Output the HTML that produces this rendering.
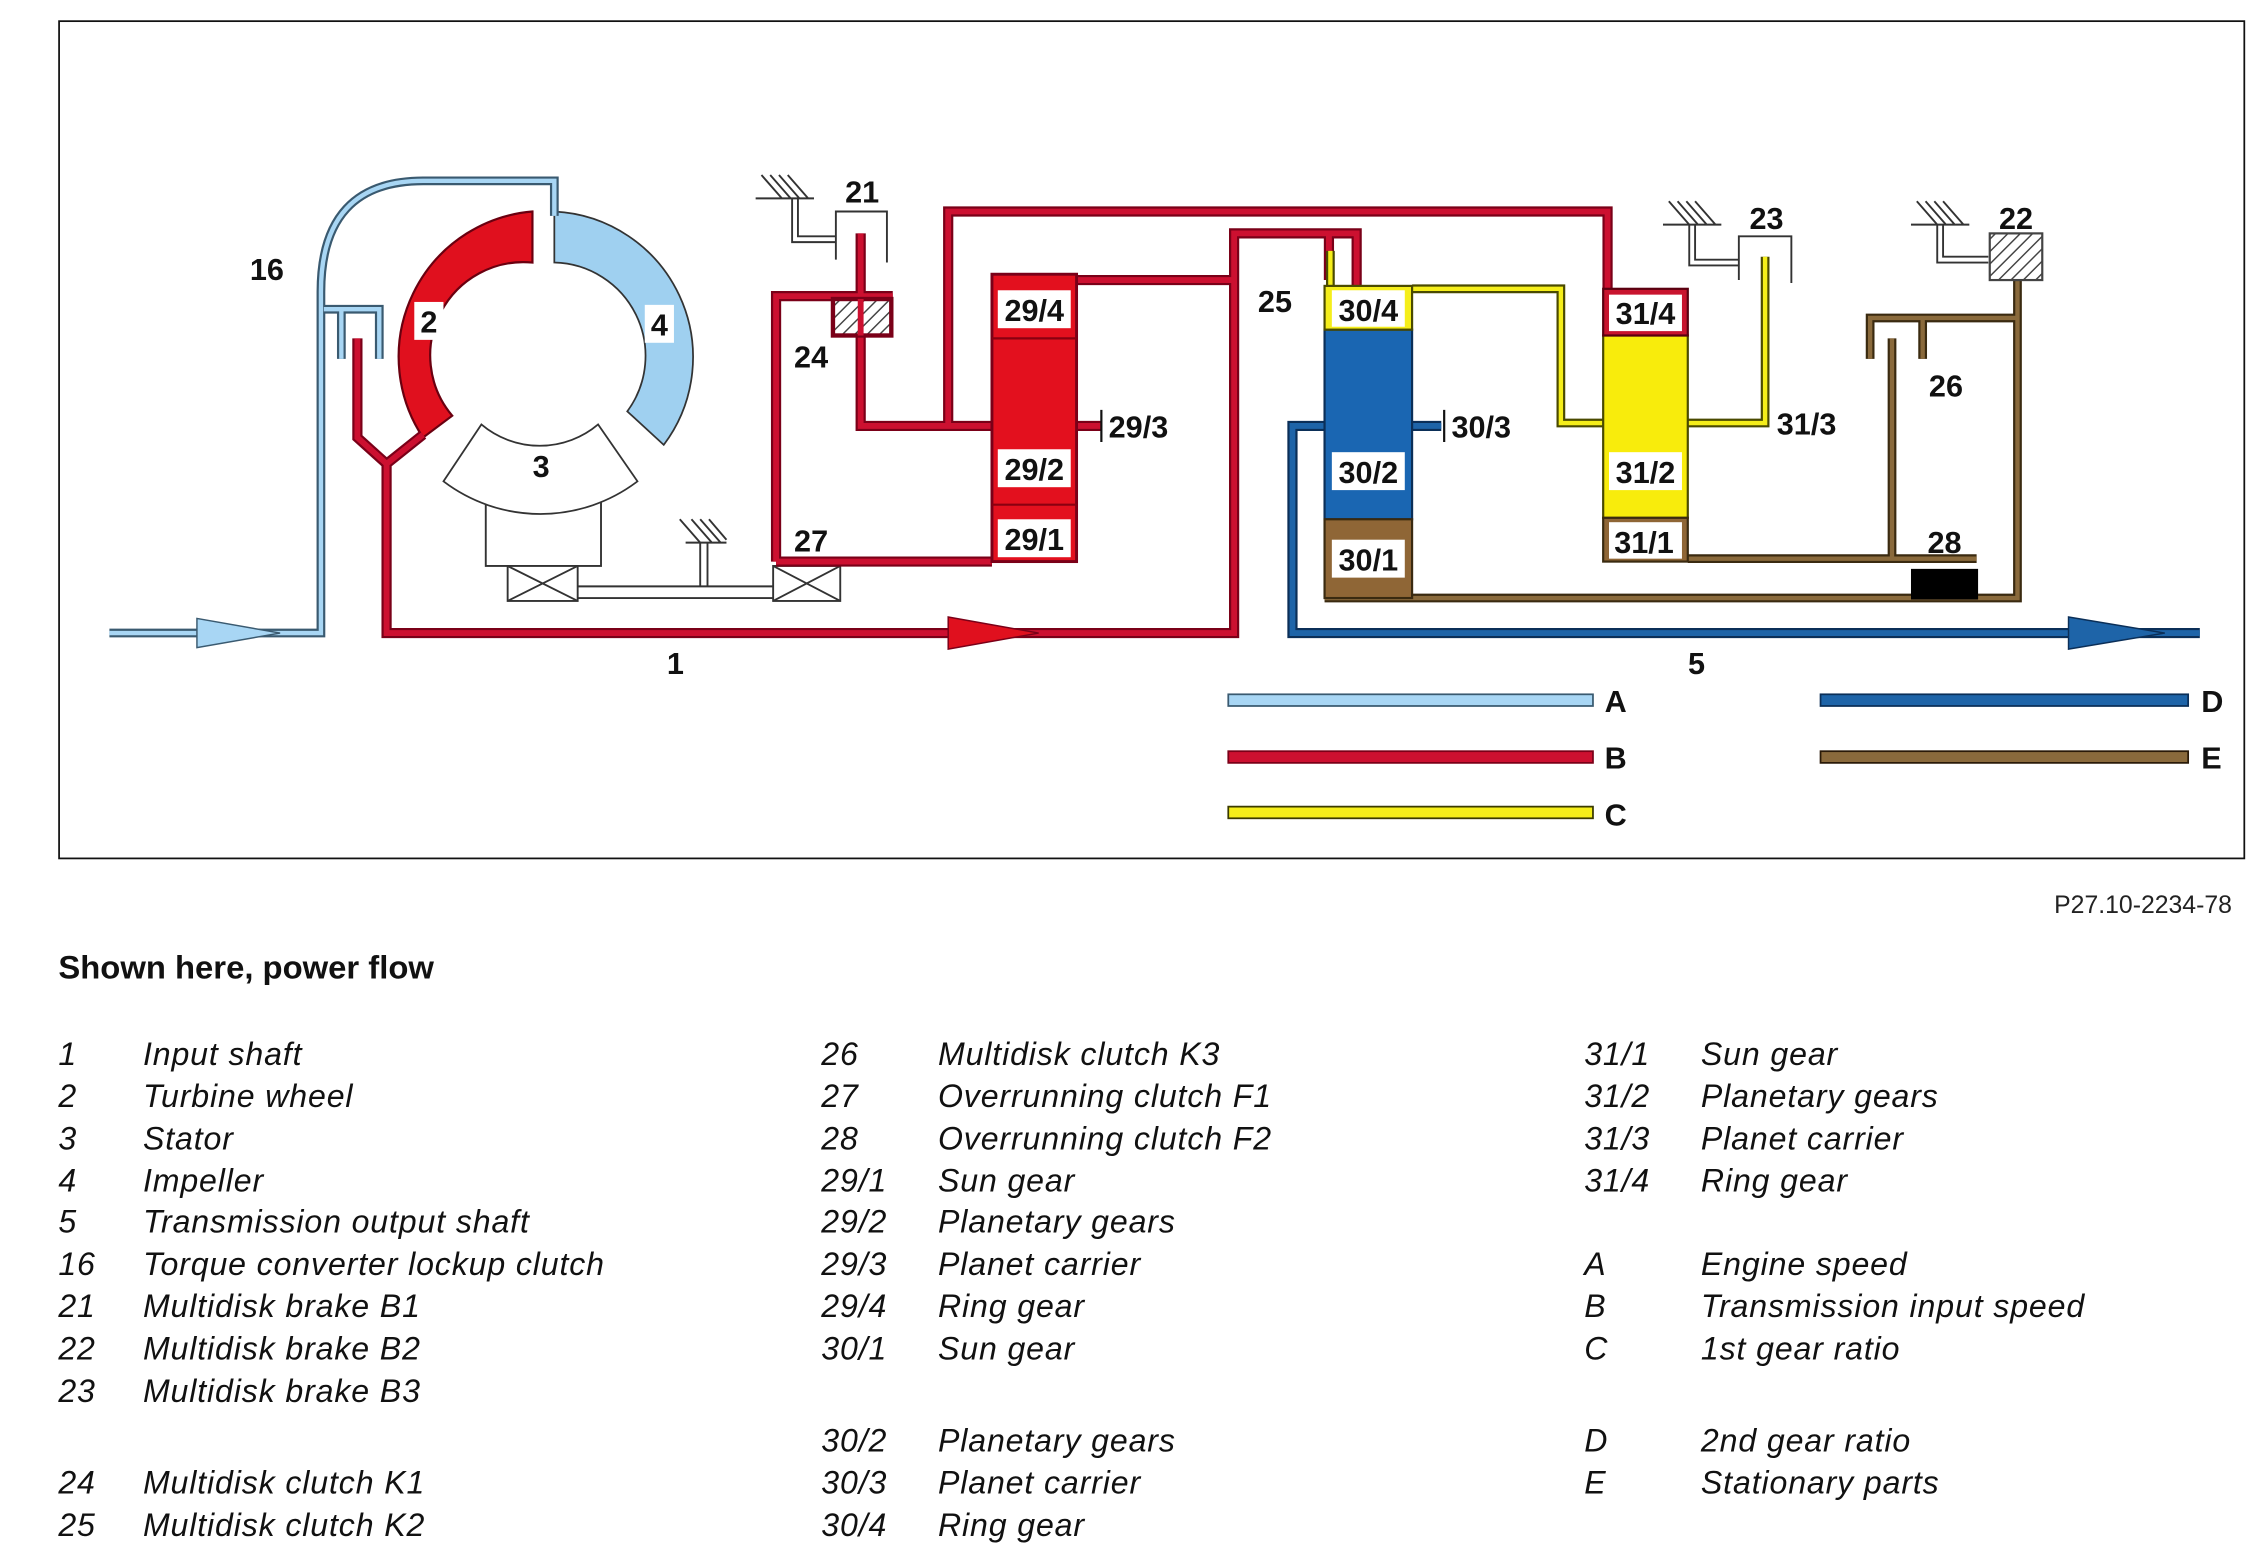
<!DOCTYPE html>
<html><head><meta charset="utf-8"><style>
html,body{margin:0;padding:0;background:#fff;}
svg{display:block}
text{font-family:"Liberation Sans",Arial,sans-serif;}
.lb{font-weight:bold;font-size:21px;fill:#111}
.li{font-style:italic;font-size:22px;fill:#111;letter-spacing:0.6px}
</style></head><body>
<svg width="2264" height="1552" viewBox="0 0 1552 1064" preserveAspectRatio="none" xmlns="http://www.w3.org/2000/svg">
<defs>
<pattern id="h" width="6" height="6" patternUnits="userSpaceOnUse" patternTransform="rotate(45)"><rect width="6" height="6" fill="#fff"/><line x1="0" y1="0" x2="0" y2="6" stroke="#444" stroke-width="2"/></pattern>
</defs>
<rect x="40.5" y="14.5" width="1498" height="574" fill="none" stroke="#111" stroke-width="1.2"/>

<g fill="none" stroke="#333" stroke-width="1.3">
<rect x="333" y="330" width="79" height="58" fill="#fff"/>
<rect x="348" y="388" width="48" height="24" fill="#fff"/><path d="M348 388L396 412M396 388L348 412"/>
<rect x="530" y="388" width="46" height="24" fill="#fff"/><path d="M530 388L576 412M576 388L530 412"/>
<path d="M396 402H530M396 410H530M480 372V402M485 372V402"/>
<path d="M470 372H498M474 356l14 16M480 356l14 16M486 356l12 14M466 356l14 16"/>
<path d="M518 136H558M522 120l14 16M528 120l14 16M534 120l14 16M540 120l14 16"/>
<path d="M543 136V166H573M547 136V162H573"/>
<path d="M573 178V145H608V180"/>
<path d="M1140 154H1180M1144 138l14 16M1150 138l14 16M1156 138l14 16M1162 138l14 16"/>
<path d="M1158 154V182H1192M1162 154V178H1192"/>
<path d="M1192 192V162H1228V194"/>
<path d="M1310 154H1350M1314 138l14 16M1320 138l14 16M1326 138l14 16M1332 138l14 16"/>
<path d="M1328 154V180H1363M1332 154V176H1363"/>
</g>

<path d="M365 145 A100 100 0 0 0 290 300 L310 285 A64 64 0 0 1 365 180 Z" fill="#e0101e" stroke="#6a0010" stroke-width="1.5"/>
<path d="M380 145 A100 100 0 0 1 455 305 L430 282 A64 64 0 0 0 380 180 Z" fill="#9fd0f0" stroke="#333" stroke-width="1.2"/>
<path d="M330 291 A62 62 0 0 0 410 291 L437 330 A110 110 0 0 1 304 330 Z" fill="#fff" stroke="#333" stroke-width="1.2"/>

<g fill="none" stroke-linejoin="miter">
<path d="M75 434H220V200Q220 124 290 124H380V148M222 212H260V246M234 212V246" stroke="#3a5a70" stroke-width="6"/>
<path d="M75 434H220V200Q220 124 290 124H380V148M222 212H260V246M234 212V246" stroke="#a8d6f4" stroke-width="3"/>
<g stroke="#7a0018" stroke-width="7">
<path d="M245 232V300L265 318L290 298M265 318V434H846V160H930V196M911 160V192"/>
<path d="M590 160V292H755M532 385V203H612M532 385H680M738 192H846M650 292V145H1102V198"/>
</g>
<g stroke="#cc1030" stroke-width="4">
<path d="M245 232V300L265 318L290 298M265 318V434H846V160H930V196M911 160V192"/>
<path d="M590 160V292H755M532 385V203H612M532 385H680M738 192H846M650 292V145H1102V198"/>
</g>
<path d="M755 281V303M990 281V303" stroke="#111" stroke-width="1.5"/>
<path d="M912 172V198M968 198H1070V290H1210V176" stroke="#4a4a00" stroke-width="6"/>
<path d="M912 172V198M968 198H1070V290H1210V176" stroke="#f5ee1a" stroke-width="3"/>
<path d="M908 410H1383V176M1157 383H1355M1297 232V383M1282 246V218H1383M1318 218V246" stroke="#3a2a10" stroke-width="6"/>
<path d="M908 410H1383V176M1157 383H1355M1297 232V383M1282 246V218H1383M1318 218V246" stroke="#8a6a3c" stroke-width="3"/>
<path d="M988 292H886V434H1508" stroke="#0b2f58" stroke-width="7"/>
<path d="M988 292H886V434H1508" stroke="#1e64a8" stroke-width="4"/>
</g>
<path d="M135 424L192 434L135 444Z" fill="#a8d6f4" stroke="#3a5a70" stroke-width="1"/>
<path d="M650 423L712 434L650 445Z" fill="#e0101e" stroke="#7a0018" stroke-width="1"/>
<path d="M1418 423L1484 434L1418 445Z" fill="#1e64a8" stroke="#0b2f58" stroke-width="1"/>

<rect x="571" y="205" width="40" height="25" fill="url(#h)" stroke="#7a0018" stroke-width="3"/>
<path d="M590 205V230" stroke="#cc1030" stroke-width="4"/>
<rect x="1364" y="160" width="36" height="32" fill="url(#h)" stroke="#444" stroke-width="1.5"/>
<rect x="1310" y="390" width="46" height="21" fill="#000"/>

<rect x="680" y="188" width="58" height="197" fill="#e3101e" stroke="#7a0018" stroke-width="2"/>
<path d="M680 232H738M680 346H738" stroke="#8a0010" stroke-width="1.5"/>
<rect x="908" y="226" width="60" height="130" fill="#1a66b2" stroke="#0b2f58" stroke-width="1.5"/>
<rect x="908" y="196" width="60" height="30" fill="#f5ee1a" stroke="#4a4a00" stroke-width="1.5"/>
<rect x="908" y="356" width="60" height="54" fill="#8f6636" stroke="#3a2a10" stroke-width="1.5"/>
<rect x="1099" y="230" width="58" height="125" fill="#f8ec0c" stroke="#4a4a00" stroke-width="1.5"/>
<rect x="1099" y="198" width="58" height="32" fill="#c8142e" stroke="#5a0010" stroke-width="1.5"/>
<rect x="1099" y="355" width="58" height="30" fill="#8f6636" stroke="#3a2a10" stroke-width="1.5"/>

<g fill="#fff">
<rect x="684" y="199" width="50" height="26"/><rect x="684" y="308" width="50" height="26"/><rect x="684" y="356" width="50" height="26"/>
<rect x="913" y="199" width="50" height="25"/><rect x="913" y="310" width="50" height="26"/><rect x="913" y="370" width="50" height="26"/>
<rect x="1103" y="202" width="50" height="25"/><rect x="1103" y="310" width="50" height="26"/><rect x="1103" y="358" width="50" height="25"/>
<rect x="284" y="207" width="20" height="26"/><rect x="442" y="209" width="20" height="26"/>
</g>
<g class="lb" text-anchor="middle">
<text x="709" y="220">29/4</text><text x="709" y="329">29/2</text><text x="709" y="377">29/1</text>
<text x="938" y="220">30/4</text><text x="938" y="331">30/2</text><text x="938" y="391">30/1</text>
<text x="1128" y="222">31/4</text><text x="1128" y="331">31/2</text><text x="1127" y="379">31/1</text>
<text x="294" y="228">2</text><text x="452" y="230">4</text><text x="371" y="327">3</text>
<text x="183" y="192">16</text><text x="591" y="139">21</text><text x="556" y="252">24</text><text x="556" y="378">27</text>
<text x="874" y="214">25</text><text x="1334" y="272">26</text><text x="1333" y="379">28</text>
<text x="1211" y="157">23</text><text x="1382" y="157">22</text>
<text x="463" y="462">1</text><text x="1163" y="462">5</text>
</g>
<g class="lb"><text x="760" y="300">29/3</text><text x="995" y="300">30/3</text><text x="1218" y="298">31/3</text></g>

<rect x="842" y="476" width="250" height="8" fill="#a8d6f4" stroke="#3a5a70" stroke-width="1.2"/>
<rect x="842" y="515" width="250" height="8" fill="#cc1030" stroke="#7a0018" stroke-width="1.2"/>
<rect x="842" y="553" width="250" height="8" fill="#f5ee1a" stroke="#3a3a00" stroke-width="1.2"/>
<rect x="1248" y="476" width="252" height="8" fill="#1e64a8" stroke="#0b2f58" stroke-width="1.2"/>
<rect x="1248" y="515" width="252" height="8" fill="#8a6a3c" stroke="#2a1a08" stroke-width="1.2"/>
<g class="lb"><text x="1100" y="488">A</text><text x="1100" y="527">B</text><text x="1100" y="566">C</text><text x="1509" y="488">D</text><text x="1509" y="527">E</text></g>

<text x="1530" y="626" text-anchor="end" font-size="17" fill="#222">P27.10-2234-78</text>
<text x="40" y="671" font-size="22.5" font-weight="bold" fill="#111">Shown here, power flow</text>

<g class="li">
<text x="40" y="730">1</text><text x="98" y="730">Input shaft</text>
<text x="40" y="759">2</text><text x="98" y="759">Turbine wheel</text>
<text x="40" y="788">3</text><text x="98" y="788">Stator</text>
<text x="40" y="817">4</text><text x="98" y="817">Impeller</text>
<text x="40" y="845">5</text><text x="98" y="845">Transmission output shaft</text>
<text x="40" y="874">16</text><text x="98" y="874">Torque converter lockup clutch</text>
<text x="40" y="903">21</text><text x="98" y="903">Multidisk brake B1</text>
<text x="40" y="932">22</text><text x="98" y="932">Multidisk brake B2</text>
<text x="40" y="961">23</text><text x="98" y="961">Multidisk brake B3</text>
<text x="40" y="1024">24</text><text x="98" y="1024">Multidisk clutch K1</text>
<text x="40" y="1053">25</text><text x="98" y="1053">Multidisk clutch K2</text>

<text x="563" y="730">26</text><text x="643" y="730">Multidisk clutch K3</text>
<text x="563" y="759">27</text><text x="643" y="759">Overrunning clutch F1</text>
<text x="563" y="788">28</text><text x="643" y="788">Overrunning clutch F2</text>
<text x="563" y="817">29/1</text><text x="643" y="817">Sun gear</text>
<text x="563" y="845">29/2</text><text x="643" y="845">Planetary gears</text>
<text x="563" y="874">29/3</text><text x="643" y="874">Planet carrier</text>
<text x="563" y="903">29/4</text><text x="643" y="903">Ring gear</text>
<text x="563" y="932">30/1</text><text x="643" y="932">Sun gear</text>
<text x="563" y="995">30/2</text><text x="643" y="995">Planetary gears</text>
<text x="563" y="1024">30/3</text><text x="643" y="1024">Planet carrier</text>
<text x="563" y="1053">30/4</text><text x="643" y="1053">Ring gear</text>

<text x="1086" y="730">31/1</text><text x="1166" y="730">Sun gear</text>
<text x="1086" y="759">31/2</text><text x="1166" y="759">Planetary gears</text>
<text x="1086" y="788">31/3</text><text x="1166" y="788">Planet carrier</text>
<text x="1086" y="817">31/4</text><text x="1166" y="817">Ring gear</text>
<text x="1086" y="874">A</text><text x="1166" y="874">Engine speed</text>
<text x="1086" y="903">B</text><text x="1166" y="903">Transmission input speed</text>
<text x="1086" y="932">C</text><text x="1166" y="932">1st gear ratio</text>
<text x="1086" y="995">D</text><text x="1166" y="995">2nd gear ratio</text>
<text x="1086" y="1024">E</text><text x="1166" y="1024">Stationary parts</text>
</g>
</svg>
</body></html>
